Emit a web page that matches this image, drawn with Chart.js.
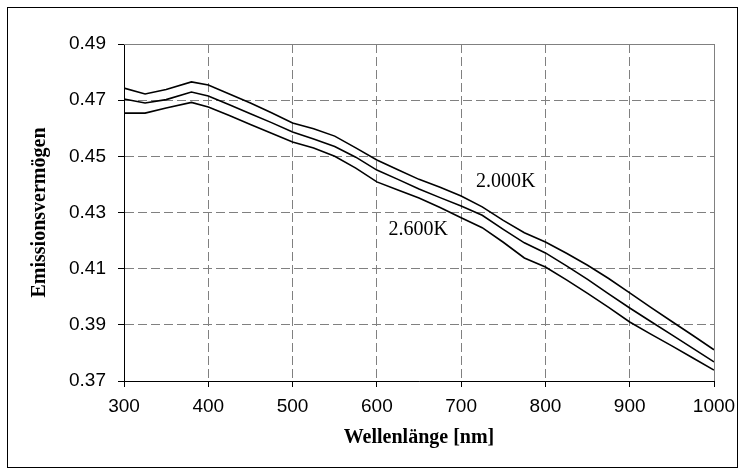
<!DOCTYPE html>
<html>
<head>
<meta charset="utf-8">
<script src="https://cdn.jsdelivr.net/npm/chart.js@4"></script>
<style>
  body { margin: 0; background: #fff; }
</style>
</head>
<body>
<canvas id="chart" width="745" height="475"></canvas>
<script>
var wavelengths = [300, 325, 350, 380, 400, 425, 450, 475, 500, 525, 550, 575, 600, 625, 650,
  675, 700, 725, 750, 775, 800, 825, 850, 875, 900, 925, 950, 975, 1000];
var upperCurve = [0.4743, 0.4722, 0.4738, 0.4765, 0.4754, 0.4722, 0.4690, 0.4655, 0.4619, 0.4598,
  0.4572, 0.4530, 0.4487, 0.4452, 0.4418, 0.4390, 0.4359, 0.4320, 0.4272, 0.4228, 0.4195, 0.4155,
  0.4112, 0.4065, 0.4014, 0.3962, 0.3912, 0.3862, 0.3811];
var middleCurve = [0.4704, 0.4690, 0.4702, 0.4729, 0.4715, 0.4684, 0.4652, 0.4620, 0.4587, 0.4562,
  0.4535, 0.4497, 0.4451, 0.4418, 0.4384, 0.4353, 0.4323, 0.4290, 0.4240, 0.4192, 0.4156, 0.4110,
  0.4062, 0.4010, 0.3960, 0.3912, 0.3864, 0.3816, 0.3768];
var lowerCurve = [0.4654, 0.4654, 0.4672, 0.4692, 0.4676, 0.4645, 0.4613, 0.4582, 0.4551, 0.4530,
  0.4500, 0.4458, 0.4409, 0.4380, 0.4352, 0.4318, 0.4281, 0.4246, 0.4194, 0.4138, 0.4106, 0.4060,
  0.4012, 0.3962, 0.3910, 0.3867, 0.3825, 0.3782, 0.3739];

// curve labels written inside the plot
var noteTexts = ['2.000K', '2.600K'];
var noteX = [753, 649];
var noteY = [0.4409, 0.4240];

function toPoints(values) {
  return values.map(function (v, i) { return { x: wavelengths[i], y: v }; });
}

function curve(values) {
  return {
    data: toPoints(values),
    borderColor: '#000',
    borderWidth: 1.6,
    pointRadius: 0,
    fill: false,
    tension: 0
  };
}

var framePlugin = {
  id: 'frame',
  beforeDatasetsDraw: function (chart) {
    var a = chart.chartArea;
    var ctx = chart.ctx;
    ctx.save();
    ctx.strokeStyle = '#808080';
    ctx.lineWidth = 1;
    ctx.beginPath();
    ctx.moveTo(Math.round(a.left), Math.round(a.top) + 0.5);
    ctx.lineTo(Math.round(a.right) + 0.5, Math.round(a.top) + 0.5);
    ctx.lineTo(Math.round(a.right) + 0.5, Math.round(a.bottom));
    ctx.stroke();
    ctx.restore();
  },
  afterDraw: function (chart) {
    var ctx = chart.ctx;
    ctx.save();
    ctx.strokeStyle = '#000';
    ctx.lineWidth = 1;
    ctx.strokeRect(7.5, 7.5, 730, 460);
    ctx.fillStyle = '#000';
    ctx.font = '20px "Liberation Serif", "Times New Roman", serif';
    ctx.textAlign = 'center';
    ctx.textBaseline = 'middle';
    for (var i = 0; i < noteTexts.length; i++) {
      ctx.fillText(noteTexts[i],
        chart.scales.x.getPixelForValue(noteX[i]),
        chart.scales.y.getPixelForValue(noteY[i]));
    }
    ctx.restore();
  }
};

var tickFont = { family: '"Liberation Sans", Arial, sans-serif', size: 19 };
var titleFont = { family: '"Liberation Serif", "Times New Roman", serif', size: 20, weight: 'bold' };

var canvas = document.getElementById('chart');
var context = canvas.getContext('2d');

var chart = new Chart(context, {
  type: 'line',
  data: {
    datasets: [curve(upperCurve), curve(middleCurve), curve(lowerCurve)]
  },
  options: {
    responsive: false,
    animation: false,
    layout: { padding: { left: 0, top: 44, right: 31, bottom: 0 } },
    plugins: {
      legend: { display: false },
      tooltip: { enabled: false }
    },
    scales: {
      x: {
        type: 'linear',
        min: 300,
        max: 1000,
        ticks: {
          stepSize: 100,
          color: '#000',
          font: tickFont,
          padding: 8,
          maxRotation: 0,
          callback: function (v) { return String(v); }
        },
        grid: { color: '#808080', tickColor: '#000', tickLength: 6 },
        border: { color: '#000', dash: [9, 4] },
        title: {
          display: true,
          text: 'Wellenlänge [nm]',
          color: '#000',
          font: titleFont,
          padding: { top: 0, bottom: 25 }
        },
        afterFit: function (scale) { scale.height = 94; }
      },
      y: {
        min: 0.37,
        max: 0.49,
        ticks: {
          stepSize: 0.02,
          color: '#000',
          font: tickFont,
          padding: 12,
          callback: function (v) { return v.toFixed(2); }
        },
        grid: { color: '#808080', tickColor: '#000', tickLength: 6 },
        border: { color: '#000', dash: [9, 4] },
        title: {
          display: true,
          text: 'Emissionsvermögen',
          color: '#000',
          font: titleFont,
          padding: { top: 28, bottom: 0 }
        },
        afterFit: function (scale) { scale.width = 124; }
      }
    }
  },
  plugins: [framePlugin]
});
</script>
</body>
</html>
